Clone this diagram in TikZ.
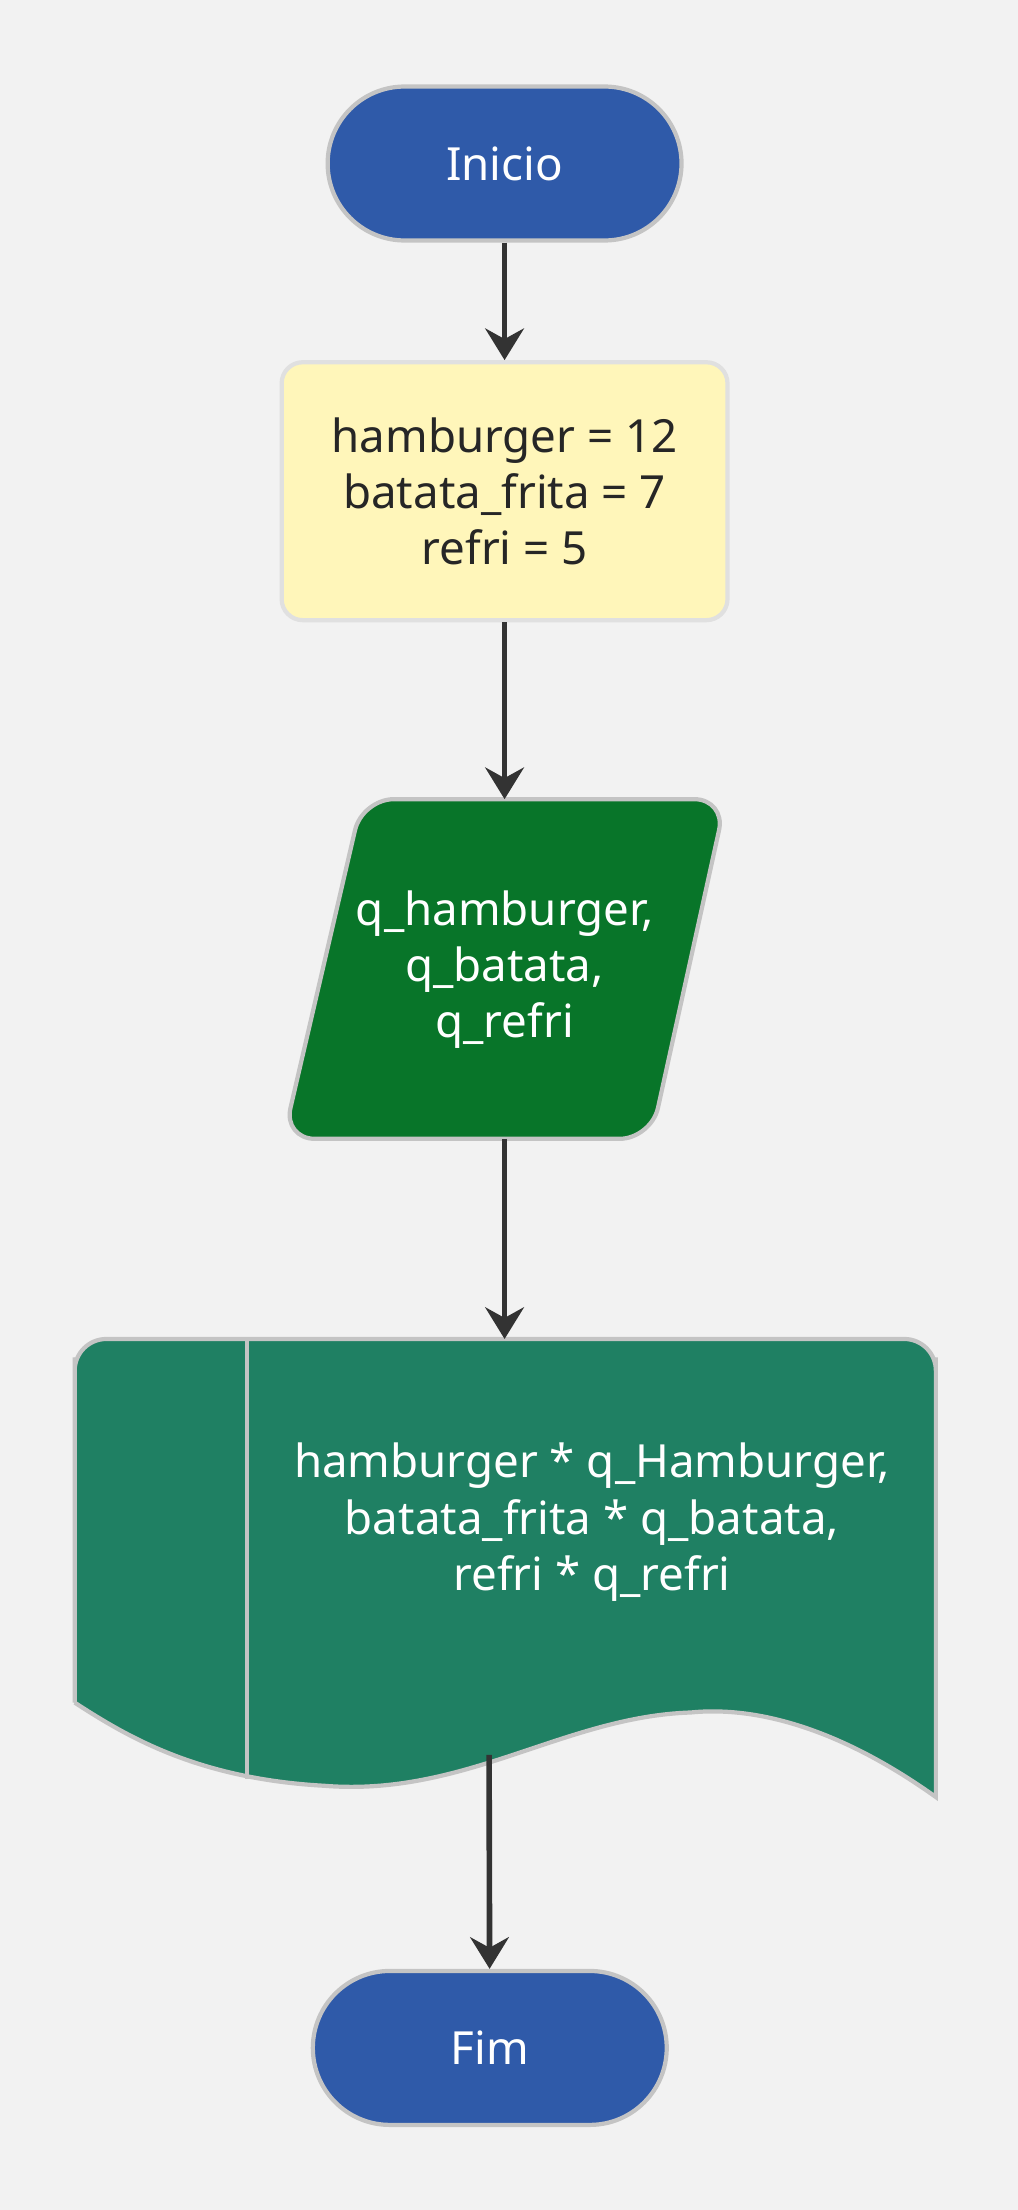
\documentclass[tikz,border=0pt]{standalone}
\usepackage{fontspec}
\setmainfont{Noto Sans}
\usetikzlibrary{arrows.meta, positioning}
\definecolor{bgcol}{HTML}{F2F2F2}
\definecolor{termblue}{HTML}{2F5AA9}
\definecolor{procyel}{HTML}{FFF6BA}
\definecolor{ingreen}{HTML}{087529}
\definecolor{outteal}{HTML}{1F8063}
\definecolor{edgegray}{HTML}{C4C4C4}
\definecolor{arrowgray}{HTML}{333333}
\tikzset{
  term/.style={draw=edgegray, line width=1.2pt, fill=termblue, rounded corners=0.77cm,
    minimum width=3.54cm, minimum height=1.54cm, text=white, font=\fontsize{13}{16}\selectfont},
  proc/.style={draw=black!12, line width=1.2pt, fill=procyel, rounded corners=6pt,
    minimum width=4.46cm, minimum height=2.58cm, align=center, text=black!85,
    font=\fontsize{13}{16}\selectfont},
  lbl/.style={align=center, text=white, font=\fontsize{13}{16}\selectfont},
  flow/.style={draw=arrowgray, line width=1.6pt, -{Stealth[length=9pt, width=11pt, inset=3pt]}}
}
\begin{document}
\begin{tikzpicture}[x=0.0141cm, y=-0.0141cm]
  \fill[bgcol] (0,0) rectangle (722,1568);

  \node[term] (inicio) at (358,116) {Inicio};
  \node[proc] (vars) at (358,348.5) {hamburger = 12\\batata\_frita = 7\\refri = 5};

  % entrada
  \draw[draw=edgegray, line width=1.2pt, fill=ingreen, rounded corners=9pt]
    (257,567) -- (515,567) -- (462,808) -- (201,808) -- cycle;
  \coordinate (in top) at (358,567);
  \coordinate (in bot) at (358,808);
  \node[lbl] (entrada) at (358,688) {q\_hamburger,\\q\_batata,\\q\_refri};

  % saida
  \draw[draw=edgegray, line width=1.2pt, fill=outteal]
    (53,1208) -- (53,963) [rounded corners=9pt] -- (53,950) -- (664,950) [sharp corners] -- (664,963) -- (664,1275)
    .. controls (580,1215) and (520,1212) .. (490,1215)
    .. controls (400,1218) and (330,1275) .. (230,1267)
    .. controls (140,1262) and (90,1232) .. (53,1208);
  \draw[edgegray, line width=1.2pt] (175,951) -- (175,1262);
  \coordinate (out top) at (358,950);
  \coordinate (out bot) at (347,1245);
  \node[lbl] (saida) at (420,1080) {hamburger * q\_Hamburger,\\batata\_frita * q\_batata,\\refri * q\_refri};

  \node[term] (fim) at (347.5,1453) {Fim};

  \draw[flow] (inicio) -- (vars);
  \draw[flow] (vars) -- (in top);
  \draw[flow] (in bot) -- (out top);
  \draw[flow] (out bot) -- (fim);
\end{tikzpicture}
\end{document}
